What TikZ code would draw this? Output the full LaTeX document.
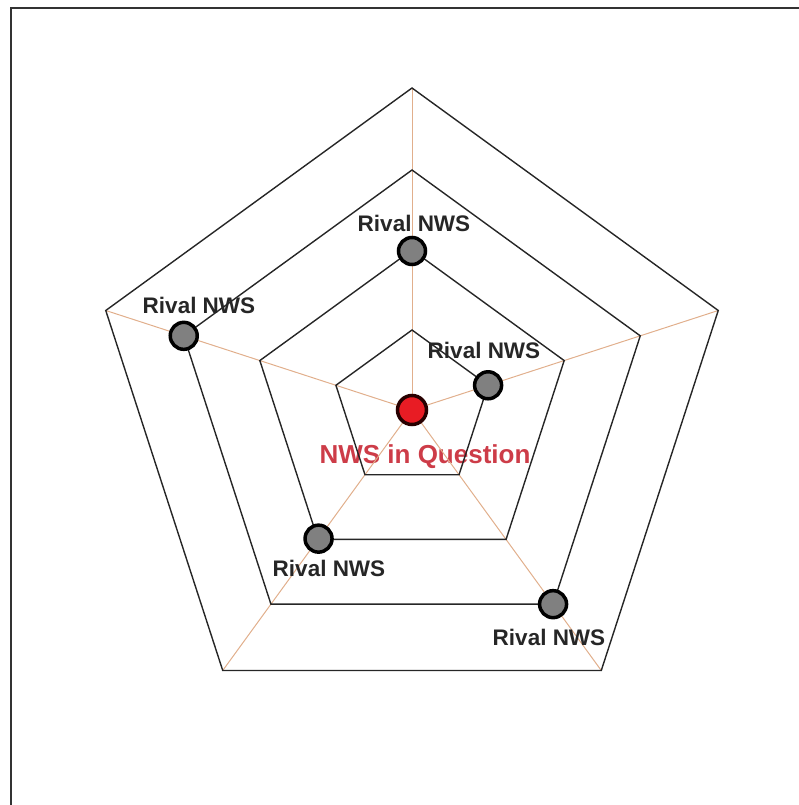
\documentclass[tikz,border=0pt]{standalone}
\usepackage{fontspec}
\setmainfont{Liberation Sans}
\begin{document}
\begin{tikzpicture}[x=1pt,y=1pt,
  frame/.style={draw=black!80,line width=2.2pt},
  ring/.style={draw=black!85,line width=1.4pt,line join=miter},
  spoke/.style={draw={rgb,255:red,225;green,175;blue,140},line width=1pt},
  rival/.style={circle,draw=black,line width=3.5pt,fill={rgb,255:red,128;green,128;blue,128},minimum size=27pt,inner sep=0pt},
  self/.style={circle,draw={rgb,255:red,40;green,0;blue,0},line width=3.5pt,fill={rgb,255:red,232;green,28;blue,36},minimum size=29pt,inner sep=0pt},
  lab/.style={font=\fontsize{22.5}{26}\selectfont\bfseries,text=black!85,inner sep=0pt},
  redlab/.style={font=\fontsize{26}{30}\selectfont\bfseries,text={rgb,255:red,205;green,60;blue,72},inner sep=0pt}]
\useasboundingbox (0,0) rectangle (799,-805);
\draw[frame] (11,-805) -- (11,-8) -- (799,-8);
\node[redlab,anchor=base] (lq) at (425,-463) {NWS in Question};
\begin{scope}[shift={(412,-410)}]
  \coordinate (c) at (0,0);
  \foreach \a [count=\i] in {90,18,-54,-126,162} {
    \coordinate (v\i) at (\a:322);
  }
  \foreach \i in {1,...,5} { \draw[spoke] (c) -- (v\i); }
  \foreach \r in {80,160,240,322} {
    \draw[ring] (90:\r) -- (18:\r) -- (-54:\r) -- (-126:\r) -- (162:\r) -- cycle;
  }
  \node[self] (q) at (c) {};
  \node[rival] (d1) at (90:159) {};
  \node[rival] (d2) at (18:80) {};
  \node[rival] (d3) at (-54:240) {};
  \node[rival] (d4) at (-126:159) {};
  \node[rival] (d5) at (162:240) {};
\end{scope}
\node[lab] (l1) at (414,-223) {Rival NWS};
\node[lab] (l2) at (484,-350) {Rival NWS};
\node[lab] (l3) at (549,-637) {Rival NWS};
\node[lab] (l4) at (329,-568) {Rival NWS};
\node[lab] (l5) at (199,-305) {Rival NWS};
\end{tikzpicture}
\end{document}
